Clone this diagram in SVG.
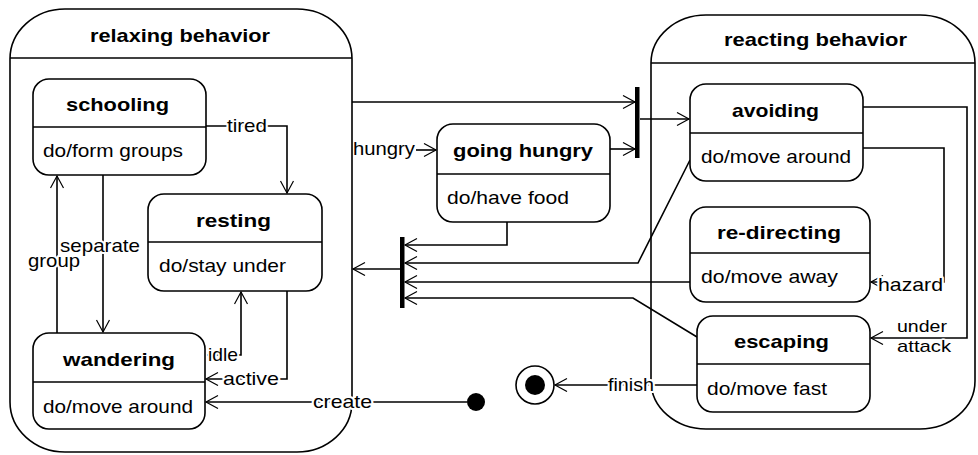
<svg xmlns="http://www.w3.org/2000/svg" width="978" height="455" viewBox="0 0 978 455">
<style>
text { font-family: "Liberation Sans", Arial, sans-serif; font-size: 19px; fill: #000; }
.h { font-weight: bold; }
.lb { stroke: #fff; stroke-width: 4; paint-order: stroke; stroke-linejoin: round; }
.sm { font-size: 17px; stroke-width: 3; }
.box { fill: #fff; stroke: #000; stroke-width: 1.6; }
.comp { fill: none; stroke: #000; stroke-width: 1.6; }
.div { stroke: #000; stroke-width: 1.6; }
.c { fill: none; stroke: #000; stroke-width: 1.6; marker-end: url(#a); }
.bar { fill: #000; }
</style>
<defs>
<marker id="a" markerWidth="15" markerHeight="15" refX="13" refY="7" orient="auto" markerUnits="userSpaceOnUse">
<path d="M1,0.5 L13,7 L1,13.5" fill="none" stroke="#000" stroke-width="1.2"/>
</marker>
</defs>

<g id="relaxing-behavior">
<rect class="comp" x="10" y="9" width="342" height="443" rx="55" ry="50"/>
<line class="div" x1="10" y1="58" x2="352" y2="58"/>
<text class="h" x="90" y="42" textLength="180" lengthAdjust="spacingAndGlyphs">relaxing behavior</text>
</g>

<g id="reacting-behavior">
<rect class="comp" x="651" y="15" width="324" height="414" rx="55" ry="48"/>
<line class="div" x1="651" y1="63" x2="975" y2="63"/>
<text class="h" x="724" y="46" textLength="183" lengthAdjust="spacingAndGlyphs">reacting behavior</text>
</g>

<g id="connectors">
<path class="c" d="M206,126 H287 V193"/>
<path class="c" d="M57,333 V176"/>
<path class="c" d="M103,175 V332"/>
<path class="c" d="M207,355 H241 V292"/>
<path class="c" d="M287,291 V379 H206"/>
<path class="c" d="M467,402 H206"/>
<path class="c" d="M697,385 H555"/>
<path class="c" d="M416,150 H436"/>
<path class="c" d="M352,102 H635"/>
<path class="c" d="M610,149 H635"/>
<path class="c" d="M640,119 H689"/>
<path class="c" d="M863,148 H944 V282 H871"/>
<path class="c" d="M863,107 H967 V338 H871"/>
<path class="c" d="M507,222 V245 H405"/>
<path class="c" d="M690,160 L638,263 H405"/>
<path class="c" d="M690,282 H405"/>
<path class="c" d="M697,337 L633,298 H405"/>
<path class="c" d="M400,269 H353"/>
<rect class="bar" x="635" y="87" width="4.5" height="71"/>
<rect class="bar" x="400" y="237" width="4.5" height="71"/>
<text class="lb" x="227" y="132" textLength="40" lengthAdjust="spacingAndGlyphs">tired</text>
<text class="lb" x="28" y="267" textLength="52" lengthAdjust="spacingAndGlyphs">group</text>
<text class="lb" x="60" y="252" textLength="80" lengthAdjust="spacingAndGlyphs">separate</text>
<text class="lb" x="208" y="361" textLength="30" lengthAdjust="spacingAndGlyphs">idle</text>
<text class="lb" x="223" y="385" textLength="56" lengthAdjust="spacingAndGlyphs">active</text>
<text class="lb" x="313" y="408" textLength="59" lengthAdjust="spacingAndGlyphs">create</text>
<text class="lb" x="608" y="391" textLength="46" lengthAdjust="spacingAndGlyphs">finish</text>
<text x="353" y="155" textLength="62" lengthAdjust="spacingAndGlyphs">hungry</text>
<text class="lb" x="878" y="291" textLength="65" lengthAdjust="spacingAndGlyphs">hazard</text>
<text class="lb sm" x="897" y="332" textLength="50" lengthAdjust="spacingAndGlyphs">under</text>
<text class="lb sm" x="897" y="352" textLength="54" lengthAdjust="spacingAndGlyphs">attack</text>
</g>

<g id="schooling">
<rect class="box" x="33" y="79" width="173" height="96" rx="16"/>
<line class="div" x1="33" y1="127" x2="206" y2="127"/>
<text class="h" x="66" y="111" textLength="103" lengthAdjust="spacingAndGlyphs">schooling</text>
<text x="43" y="157" textLength="140" lengthAdjust="spacingAndGlyphs">do/form groups</text>
</g>

<g id="resting">
<rect class="box" x="148" y="194" width="174" height="97" rx="16"/>
<line class="div" x1="148" y1="242" x2="322" y2="242"/>
<text class="h" x="196" y="227" textLength="75" lengthAdjust="spacingAndGlyphs">resting</text>
<text x="159" y="272" textLength="127" lengthAdjust="spacingAndGlyphs">do/stay under</text>
</g>

<g id="wandering">
<rect class="box" x="33" y="333" width="172" height="96" rx="16"/>
<line class="div" x1="33" y1="382" x2="205" y2="382"/>
<text class="h" x="63" y="366" textLength="112" lengthAdjust="spacingAndGlyphs">wandering</text>
<text x="43" y="413" textLength="150" lengthAdjust="spacingAndGlyphs">do/move around</text>
</g>

<g id="going-hungry">
<rect class="box" x="437" y="124" width="173" height="98" rx="16"/>
<line class="div" x1="437" y1="174" x2="610" y2="174"/>
<text class="h" x="453" y="157" textLength="140" lengthAdjust="spacingAndGlyphs">going hungry</text>
<text x="447" y="204" textLength="122" lengthAdjust="spacingAndGlyphs">do/have food</text>
</g>

<g id="avoiding">
<rect class="box" x="690" y="84" width="173" height="97" rx="16"/>
<line class="div" x1="690" y1="133" x2="863" y2="133"/>
<text class="h" x="732" y="117" textLength="87" lengthAdjust="spacingAndGlyphs">avoiding</text>
<text x="701" y="163" textLength="150" lengthAdjust="spacingAndGlyphs">do/move around</text>
</g>

<g id="re-directing">
<rect class="box" x="690" y="207" width="180" height="95" rx="16"/>
<line class="div" x1="690" y1="253" x2="870" y2="253"/>
<text class="h" x="717" y="239" textLength="124" lengthAdjust="spacingAndGlyphs">re-directing</text>
<text x="701" y="283" textLength="137" lengthAdjust="spacingAndGlyphs">do/move away</text>
</g>

<g id="escaping">
<rect class="box" x="697" y="316" width="173" height="96" rx="16"/>
<line class="div" x1="697" y1="364" x2="870" y2="364"/>
<text class="h" x="734" y="348" textLength="95" lengthAdjust="spacingAndGlyphs">escaping</text>
<text x="707" y="395" textLength="120" lengthAdjust="spacingAndGlyphs">do/move fast</text>
</g>

<g id="initial">
<circle cx="476" cy="402" r="9" fill="#000"/>
</g>

<g id="final">
<circle cx="535" cy="385" r="19" fill="#fff" stroke="#000" stroke-width="1.6"/>
<circle cx="535" cy="385" r="10" fill="#000"/>
</g>
</svg>
